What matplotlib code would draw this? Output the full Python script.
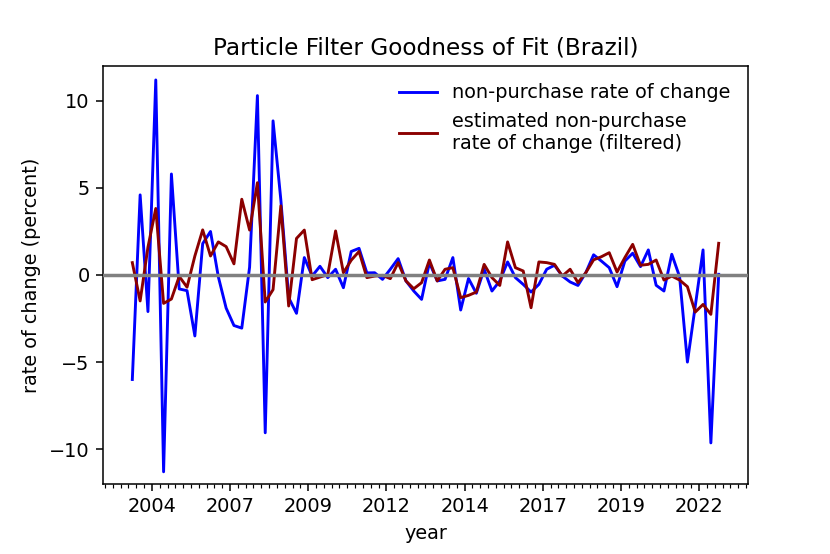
import numpy as np
import matplotlib
matplotlib.use("Agg")
import matplotlib.pyplot as plt

# quarterly rate of change (percent)
observed = [-6.0, 4.6, -2.1, 11.2, -11.3, 5.8, -0.8, -0.9, -3.5, 1.8,
            2.5, -0.1, -1.9, -2.9, -3.05, 0.45, 10.3, -9.06, 8.85, 4.3,
            -1.3, -2.2, 1.0, -0.06, 0.5, -0.15, 0.33, -0.73, 1.35, 1.53,
            0.12, 0.13, -0.25, 0.33, 0.94, -0.34, -0.92, -1.4, 0.71, -0.34,
            -0.25, 1.0, -2.01, -0.2, -1.05, 0.33, -0.92, -0.34, 0.75, -0.15,
            -0.54, -0.98, -0.54, 0.33, 0.56, -0.06, -0.4, -0.6, 0.13, 1.16,
            0.8, 0.42, -0.67, 0.8, 1.25, 0.48, 1.44, -0.59, -0.92, 1.19,
            -0.1, -5.0, -1.8, 1.44, -9.64, 0.04]

filtered = [0.71, -1.49, 1.6, 3.82, -1.63, -1.38, -0.08, -0.7, 1.09, 2.59,
            1.09, 1.9, 1.63, 0.64, 4.35, 2.58, 5.3, -1.55, -0.84, 3.97,
            -1.78, 2.1, 2.58, -0.27, -0.12, 0.02, 2.53, 0.13, 0.85, 1.35,
            -0.15, -0.06, -0.02, -0.21, 0.71, -0.34, -0.79, -0.44, 0.86, -0.34,
            0.33, 0.42, -1.3, -1.17, -0.98, 0.61, -0.15, -0.6, 1.9, 0.42,
            0.23, -1.88, 0.75, 0.71, 0.61, -0.06, 0.33, -0.44, 0.13, 0.87,
            1.05, 1.28, 0.17, 1.0, 1.76, 0.56, 0.61, 0.86, -0.29, -0.06,
            -0.29, -0.67, -2.13, -1.69, -2.26, 1.82]

year_labels = ["2004", "2007", "2009", "2012", "2014", "2017", "2019", "2022"]

quarter = np.arange(len(observed))

DPI = 138.4
fig = plt.figure(figsize=(830 / DPI, 554 / DPI), dpi=DPI)
ax = fig.add_subplot(111)
fig.subplots_adjust(left=103 / 830, right=748 / 830, top=1 - 66 / 554, bottom=1 - 484 / 554)

ax.plot(quarter, observed, color="blue", lw=1.5, label="non-purchase rate of change")
ax.plot(quarter, filtered, color="darkred", lw=1.5,
        label="estimated non-purchase\nrate of change (filtered)")
ax.axhline(0, color="gray", lw=1.8, zorder=3)

# year ticks every 10 quarters, quarter minor ticks in between
ax.set_xticks(2.5 + 10 * np.arange(len(year_labels)))
ax.set_xticklabels(year_labels)
ax.set_xticks(np.arange(-3.5, len(observed) + 3, 1.0), minor=True)
ax.set_ylim(-12, 12)

ax.set_title("Particle Filter Goodness of Fit (Brazil)")
ax.set_xlabel("year")
ax.set_ylabel("rate of change (percent)")
ax.legend(loc="upper right", frameon=False)

fig.savefig("out.png", dpi=DPI)
